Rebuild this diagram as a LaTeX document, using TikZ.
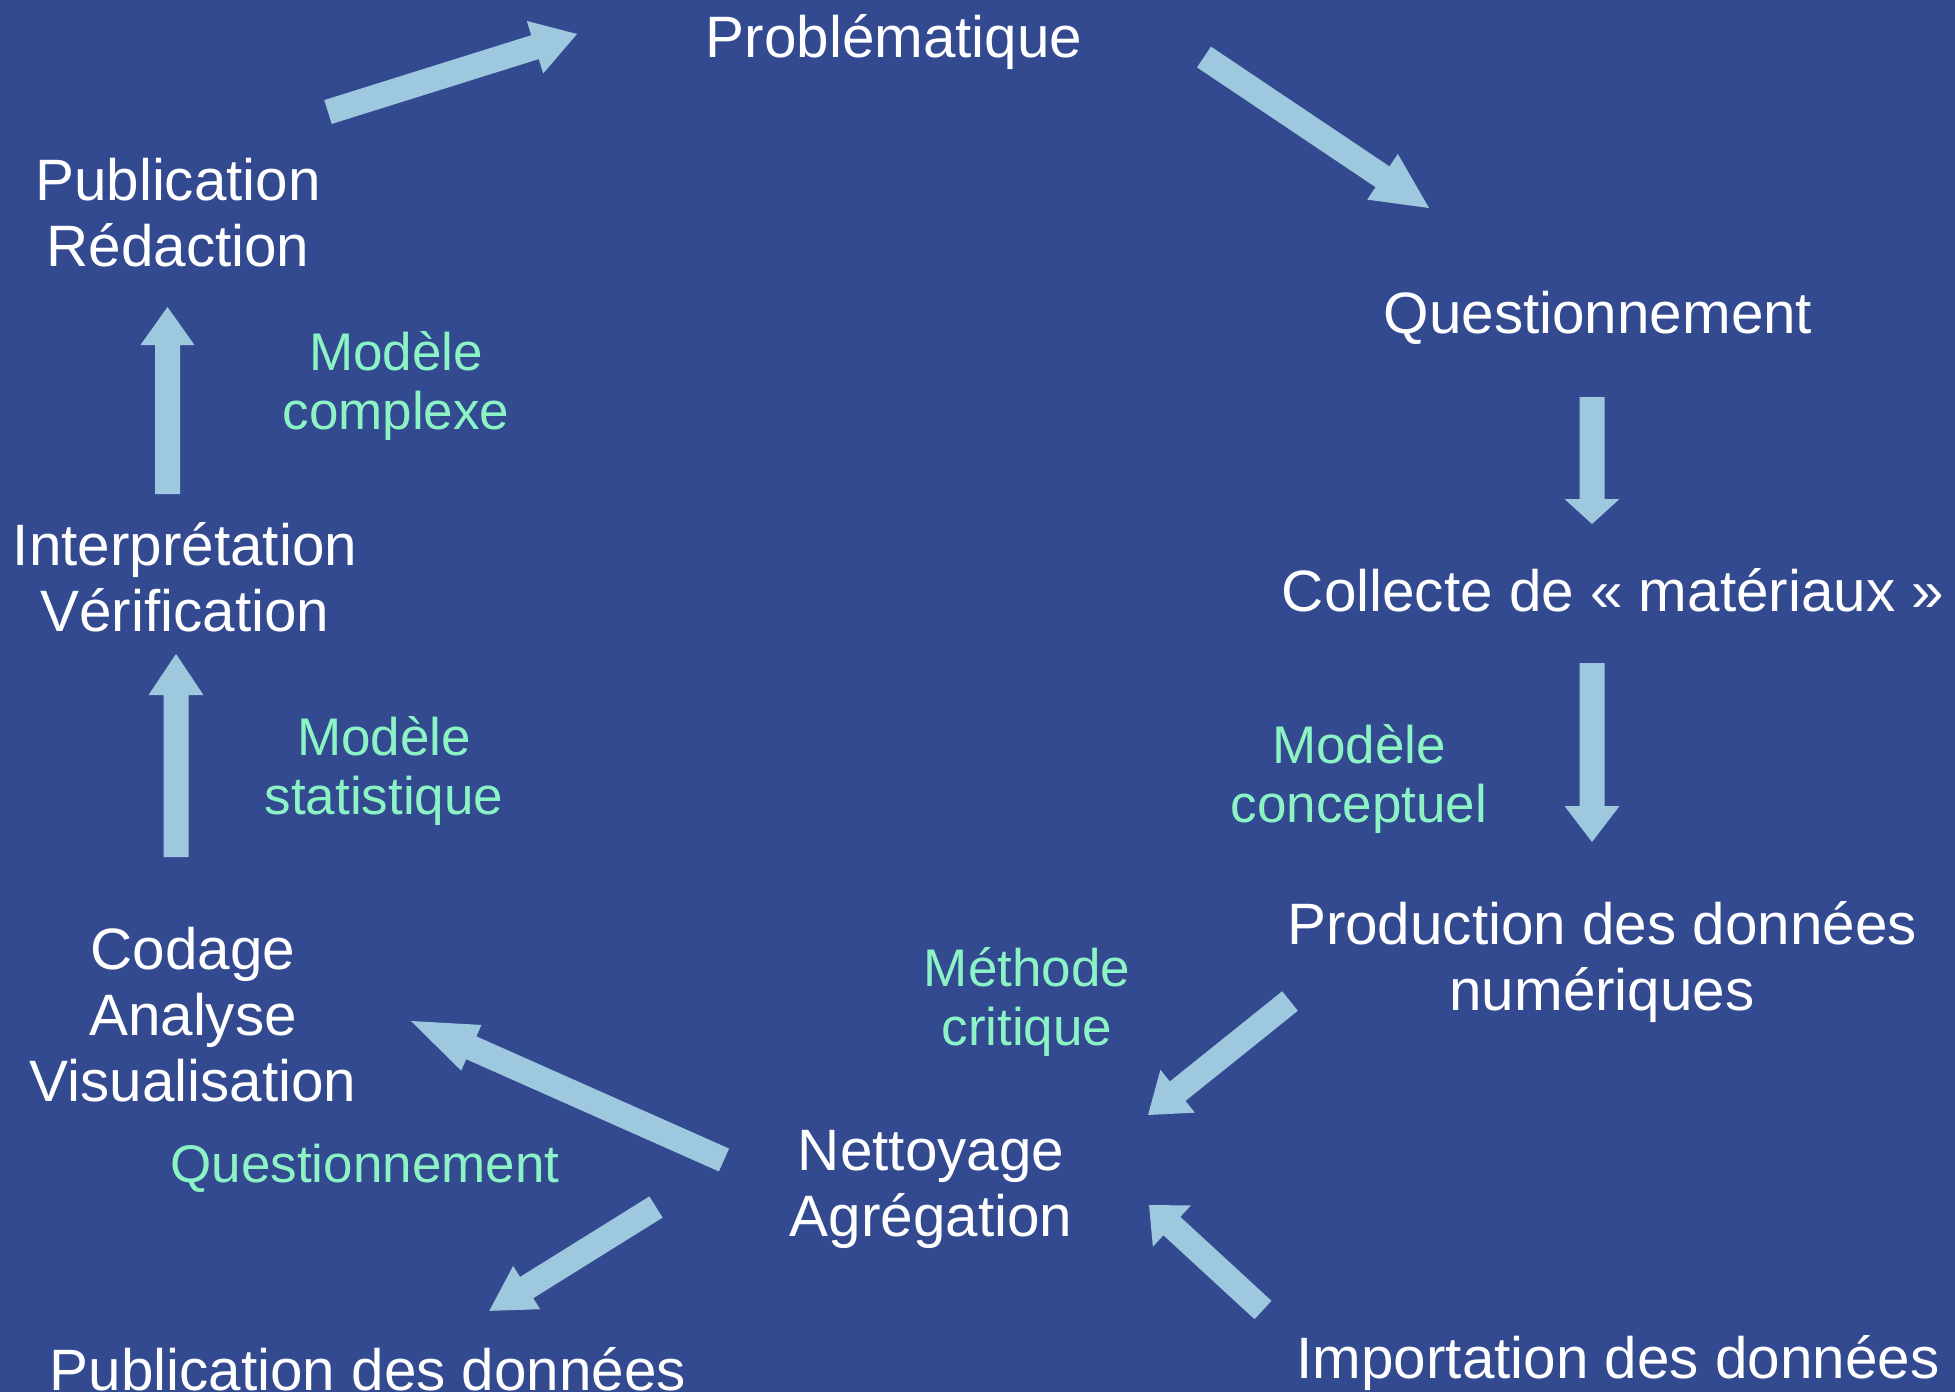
\documentclass[tikz,border=0pt]{standalone}
\usepackage{fontspec}
\setmainfont{Liberation Sans}
\usetikzlibrary{calc}

\definecolor{bgblue}{RGB}{51,74,145}
\definecolor{arrowblue}{RGB}{158,200,222}
\definecolor{mint}{RGB}{140,244,196}

% Broad flat arrow from coordinate #1 to coordinate #2,
% head length #3 and head half width #4 (shaft half width 6.25pt)
\newcommand\fatarrow[4]{%
  \pgfmathanglebetweenpoints{\pgfpointanchor{#1}{center}}{\pgfpointanchor{#2}{center}}%
  \let\faAng\pgfmathresult
  \pgfpointdiff{\pgfpointanchor{#1}{center}}{\pgfpointanchor{#2}{center}}%
  \pgfgetlastxy{\faDx}{\faDy}%
  \pgfmathsetmacro\faLen{veclen(\faDx,\faDy)}%
  \fill[arrowblue, shift={(#1)}, rotate=\faAng]
    (0pt,-6.25pt) -- ({\faLen pt-#3},-6.25pt) -- ({\faLen pt-#3},-#4)
    -- (\faLen pt,0pt) -- ({\faLen pt-#3},#4) -- ({\faLen pt-#3},6.25pt)
    -- (0pt,6.25pt) -- cycle;
}

\begin{document}
\begin{tikzpicture}[x=0.5pt,y=-0.5pt,
  stage/.style={text=white, font=\fontsize{29.2}{33}\selectfont, align=center,
    inner sep=0pt, anchor=base},
  method/.style={text=mint, font=\fontsize{26.5}{29.5}\selectfont, align=center,
    inner sep=0pt, anchor=base}]

\fill[bgblue] (0,0) rectangle (1955,1392);
\useasboundingbox (0,0) rectangle (1955,1392);

% stages of the cycle (placed by the baseline of their last line)
\node[stage] (prob)   at (894,57)   {Problématique};
\node[stage] (quest)  at (1598,333) {Questionnement};
\node[stage] (coll)   at (1613,611) {Collecte de « matériaux »};
\node[stage] (prod)   at (1602,1010) {Production des données\\numériques};
\node[stage] (imp)    at (1618,1378) {Importation des données};
\node[stage] (nett)   at (931,1236) {Nettoyage\\Agrégation};
\node[stage] (pubd)   at (368,1390) {Publication des données};
\node[stage] (cod)    at (193,1101) {Codage\\Analyse\\Visualisation};
\node[stage] (interp) at (185,631)  {Interprétation\\Vérification};
\node[stage] (pubr)   at (178,266)  {Publication\\Rédaction};

% methods
\node[method] (mcomp) at (396,429)  {Modèle\\complexe};
\node[method] (mstat) at (384,814)  {Modèle\\statistique};
\node[method] (mconc) at (1359,822) {Modèle\\conceptuel};
\node[method] (mcrit) at (1027,1045) {Méthode\\critique};
\node[method] (mq)    at (365,1182) {Questionnement};

% arrow ends
\coordinate (a1s) at (328,112);   \coordinate (a1e) at (577,34);
\coordinate (a2s) at (1204,57);   \coordinate (a2e) at (1429,208);
\coordinate (a3s) at (1592,397);  \coordinate (a3e) at (1592,524);
\coordinate (a4s) at (1592,663);  \coordinate (a4e) at (1592,842);
\coordinate (a5s) at (1290,1001); \coordinate (a5e) at (1148,1115);
\coordinate (a6s) at (1263,1310); \coordinate (a6e) at (1149,1205);
\coordinate (a7s) at (724,1160);  \coordinate (a7e) at (411,1021);
\coordinate (a8s) at (656,1207);  \coordinate (a8e) at (489,1311);
\coordinate (a9s) at (176,857);   \coordinate (a9e) at (176,654);
\coordinate (a10s) at (167.5,494); \coordinate (a10e) at (167.5,307);

\fatarrow{a1s}{a1e}{22pt}{13.75pt}
\fatarrow{a2s}{a2e}{28pt}{13.75pt}
\fatarrow{a3s}{a3e}{12.5pt}{13.75pt}
\fatarrow{a4s}{a4e}{18pt}{13.75pt}
\fatarrow{a5s}{a5e}{19pt}{13.75pt}
\fatarrow{a6s}{a6e}{15.5pt}{14pt}
\fatarrow{a7s}{a7e}{33pt}{12.5pt}
\fatarrow{a8s}{a8e}{22pt}{12.75pt}
\fatarrow{a9s}{a9e}{20.5pt}{13.75pt}
\fatarrow{a10s}{a10e}{19pt}{13.5pt}
\end{tikzpicture}
\end{document}
